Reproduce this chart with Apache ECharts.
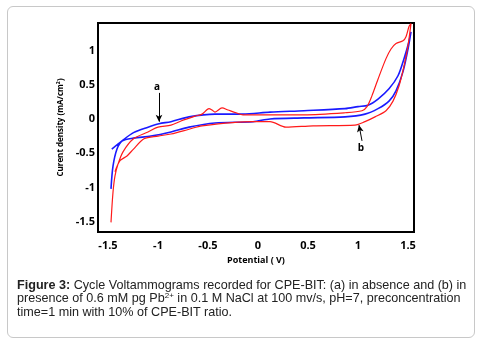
<!DOCTYPE html>
<html>
<head>
<meta charset="utf-8">
<script src="https://cdn.jsdelivr.net/npm/echarts@6/dist/echarts.min.js"></script>
<style>
body { margin: 0; background: #fff; }
#box { position: absolute; left: 7px; top: 6px; width: 466px; height: 330px; border: 1px solid #c8c8c8; border-radius: 6px; }
#chart { position: absolute; left: 0; top: 0; width: 484px; height: 344px; }
#caption { position: absolute; left: 17px; top: 279px; width: 460px; font-family: "Liberation Sans", Arial, sans-serif; font-size: 12.6px; line-height: 13.3px; color: #222; white-space: nowrap; }
#caption sup { font-size: 8px; line-height: 0; vertical-align: 4px; }
</style>
</head>
<body>
<div id="box"></div>
<div id="chart"></div>
<div id="caption"><b>Figure 3:</b> Cycle Voltammograms recorded for CPE-BIT: (a) in absence and (b) in<br>presence of 0.6 mM pg Pb<sup>2+</sup> in 0.1 M NaCl at 100 mv/s, pH=7, preconcentration<br>time=1 min with 10% of CPE-BIT ratio.</div>
<script>
//曲线 a（蓝）: [电位 V, 电流密度]
var curveA = [
	[-1.462, -0.44], [-1.36, -0.32], [-1.245, -0.20], [-1.10, -0.12], [-0.99, -0.07],
	[-0.87, -0.04], [-0.69, 0.03], [-0.43, 0.07], [-0.153, 0.07], [0.12, 0.10],
	[0.46, 0.12], [0.87, 0.15], [1.0, 0.18], [1.10, 0.20], [1.20, 0.29],
	[1.31, 0.44], [1.40, 0.63], [1.46, 0.88], [1.51, 1.13], [1.53, 1.27],
	[1.50, 1.02], [1.45, 0.69], [1.38, 0.41], [1.31, 0.26], [1.20, 0.15],
	[1.07, 0.07], [0.87, 0.03], [0.46, 0.015], [0.12, 0.0], [-0.05, -0.04],
	[-0.43, -0.06], [-0.69, -0.12], [-0.87, -0.19], [-1.07, -0.25], [-1.245, -0.28],
	[-1.357, -0.32], [-1.41, -0.44], [-1.45, -0.69], [-1.47, -1.02]
];
//曲线 b（红）
var curveB = [
	[-1.47, -1.51], [-1.45, -1.07], [-1.43, -0.83], [-1.40, -0.66], [-1.35, -0.48],
	[-1.245, -0.29], [-1.10, -0.19], [-1.0, -0.12], [-0.87, -0.09], [-0.77, -0.03],
	[-0.63, 0.04], [-0.56, 0.07], [-0.49, 0.15], [-0.46, 0.13], [-0.43, 0.10],
	[-0.36, 0.16], [-0.30, 0.13], [-0.22, 0.09], [-0.15, 0.06], [0.12, 0.06],
	[0.46, 0.06], [0.87, 0.09], [1.04, 0.12], [1.09, 0.18], [1.14, 0.34],
	[1.20, 0.58], [1.28, 0.88], [1.33, 1.02], [1.38, 1.10], [1.45, 1.14],
	[1.48, 1.20], [1.51, 1.35], [1.53, 1.39],
	[1.50, 1.07], [1.46, 0.77], [1.41, 0.48], [1.35, 0.26], [1.28, 0.12],
	[1.17, 0.03], [1.07, -0.04], [0.97, -0.09], [0.55, -0.10], [0.28, -0.12],
	[0.12, -0.04], [-0.05, -0.04], [-0.56, -0.10], [-0.69, -0.15], [-0.87, -0.22],
	[-1.0, -0.25], [-1.14, -0.29], [-1.245, -0.44], [-1.31, -0.54], [-1.38, -0.61],
	[-1.43, -0.77]
];
var xTicks = [-1.5, -1, -0.5, 0, 0.5, 1, 1.5];
var yTicks = [-1.5, -1, -0.5, 0, 0.5, 1];
//箭头和标注 a / b
var arrowA = [[-0.99, 0.38], [-0.99, -0.04]];
var labelA = [-1.01, 0.47];
var arrowB = [[1.04, -0.32], [1.01, -0.09]];
var labelB = [1.03, -0.42];

var font = '"Open Sans", "DejaVu Sans", sans-serif';
var chart = echarts.init(document.getElementById('chart'));

function arrowLine(pts) {
	return {
		silent: true,
		symbol: ['none', 'arrow'],
		symbolSize: [5, 7],
		lineStyle: { color: '#000', width: 1, type: 'solid' },
		label: { show: false },
		data: [[{ coord: pts[0] }, { coord: pts[1] }]]
	};
}
function letter(name, pos) {
	return {
		silent: true,
		symbol: 'circle',
		symbolSize: 0,
		label: { show: true, position: 'inside', formatter: name, color: '#000', fontFamily: font, fontWeight: 'bold', fontSize: 10 },
		data: [{ coord: pos }]
	};
}

var option = {
	animation: false,
	grid: {
		left: 98, top: 23, right: 70, bottom: 112,
		show: true, borderColor: '#000', borderWidth: 2, backgroundColor: 'transparent'
	},
	xAxis: {
		type: 'value', min: -1.6, max: 1.56,
		name: 'Potential ( V)', nameLocation: 'middle', nameGap: 23,
		nameTextStyle: { color: '#000', fontFamily: font, fontWeight: 'bold', fontSize: 9 },
		axisLine: { show: false }, axisTick: { show: false }, splitLine: { show: false },
		axisLabel: { customValues: xTicks, color: '#000', fontFamily: font, fontWeight: 'bold', fontSize: 11, margin: 8 }
	},
	yAxis: {
		type: 'value', min: -1.65, max: 1.4,
		name: 'Curent density (mA/cm\u00b2)', nameLocation: 'middle', nameGap: 29, nameRotate: 90,
		nameTextStyle: { color: '#000', fontFamily: font, fontWeight: 'bold', fontSize: 8 },
		axisLine: { show: false }, axisTick: { show: false }, splitLine: { show: false },
		axisLabel: { customValues: yTicks, color: '#000', fontFamily: font, fontWeight: 'bold', fontSize: 11, margin: 3 }
	},
	series: [
		{
			name: 'a', type: 'line', data: curveA, showSymbol: false, smooth: 0.3,
			lineStyle: { color: '#1a1aff', width: 1.6 },
			markLine: arrowLine(arrowA), markPoint: letter('a', labelA)
		},
		{
			name: 'b', type: 'line', data: curveB, showSymbol: false, smooth: 0.3,
			lineStyle: { color: '#ff1a1a', width: 1.2 },
			markLine: arrowLine(arrowB), markPoint: letter('b', labelB)
		}
	]
};
chart.setOption(option, true);
</script>
</body>
</html>
